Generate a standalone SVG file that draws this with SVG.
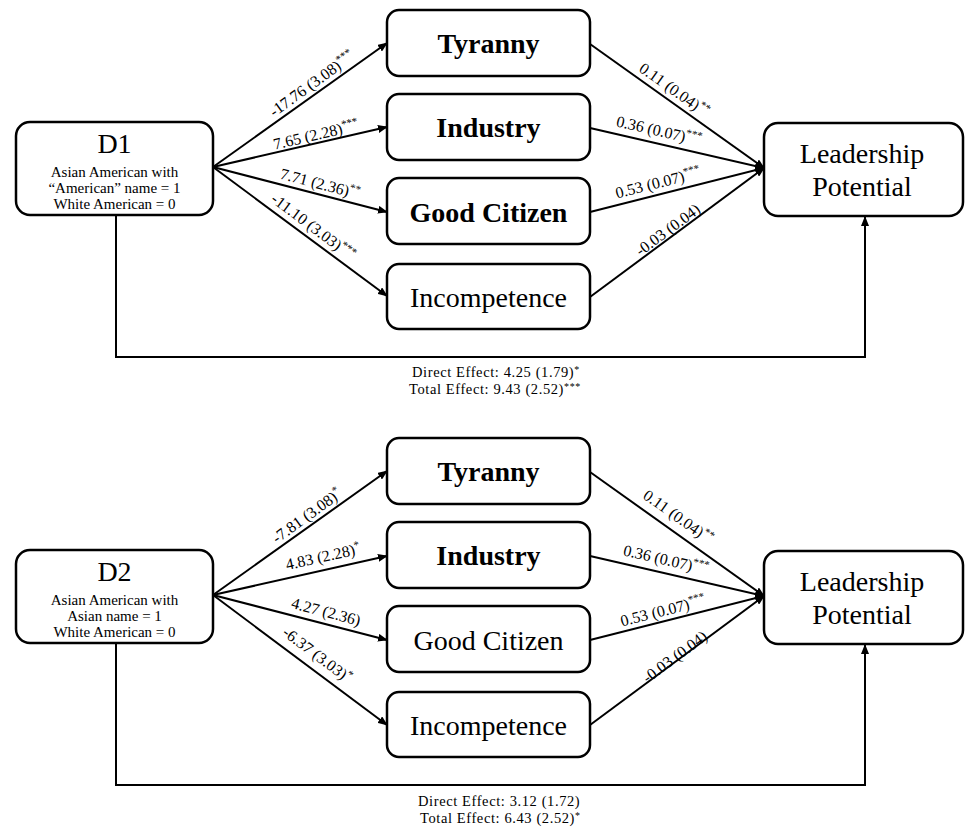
<svg xmlns="http://www.w3.org/2000/svg" width="970" height="830" viewBox="0 0 970 830">
<defs>
<marker id="arr" markerUnits="userSpaceOnUse" markerWidth="10" markerHeight="8" refX="9" refY="4" orient="auto">
<path d="M0,0 L10,4 L0,8 Z" fill="#000"/>
</marker>
<style>
text{font-family:"Liberation Serif","Times New Roman",serif;fill:#000}
.box{fill:#fff;stroke:#000;stroke-width:2.5}
.ln{fill:none;stroke:#000;stroke-width:2}
.big{font-size:28px;text-anchor:middle}
.b{font-weight:bold}
.sub{font-size:15px;text-anchor:middle}
.lab{font-size:16px;text-anchor:middle}
.eff{font-size:14.5px;letter-spacing:0.6px}
.st{font-size:11px}
.st2{font-size:10px}
</style>
</defs>
<rect width="970" height="830" fill="#fff"/>

<g id="panel1">
<g id="connectors1">
<line class="ln" x1="213" y1="167" x2="387" y2="43" marker-end="url(#arr)"/>
<line class="ln" x1="213" y1="167" x2="387" y2="127" marker-end="url(#arr)"/>
<line class="ln" x1="213" y1="167" x2="387" y2="212" marker-end="url(#arr)"/>
<line class="ln" x1="213" y1="167" x2="387" y2="296" marker-end="url(#arr)"/>
<line class="ln" x1="590" y1="44" x2="764" y2="168" marker-end="url(#arr)"/>
<line class="ln" x1="590" y1="128" x2="764" y2="168" marker-end="url(#arr)"/>
<line class="ln" x1="590" y1="212" x2="764" y2="168" marker-end="url(#arr)"/>
<line class="ln" x1="590" y1="297" x2="764" y2="168" marker-end="url(#arr)"/>
<path class="ln" d="M116,215 V357 H865 V217" marker-end="url(#arr)"/>
<text class="lab" transform="translate(312,84) rotate(-35.8)" dy="5">-17.76 (3.08)<tspan class="st" dy="-6">***</tspan></text>
<text class="lab" transform="translate(316,135) rotate(-13.1)" dy="5">7.65 (2.28)<tspan class="st" dy="-6">***</tspan></text>
<text class="lab" transform="translate(320,184) rotate(14.7)" dy="5">7.71 (2.36)<tspan class="st" dy="-6">**</tspan></text>
<text class="lab" transform="translate(313,227) rotate(36.9)" dy="5">-11.10 (3.03)<tspan class="st" dy="-6">***</tspan></text>
<text class="lab" transform="translate(674,90) rotate(35.3)" dy="5">0.11 (0.04)<tspan class="st" dy="-6">**</tspan></text>
<text class="lab" transform="translate(659,131) rotate(12.9)" dy="5">0.36 (0.07)<tspan class="st" dy="-6">***</tspan></text>
<text class="lab" transform="translate(658,183) rotate(-14.1)" dy="5">0.53 (0.07)<tspan class="st" dy="-6">***</tspan></text>
<text class="lab" transform="translate(668,230) rotate(-36.4)" dy="5">-0.03 (0.04)</text>
<text class="eff" x="412" y="377">Direct Effect:  4.25 (1.79)<tspan class="st2" dy="-4">*</tspan></text>
<text class="eff" x="409" y="394">Total Effect:  9.43 (2.52)<tspan class="st2" dy="-4">***</tspan></text>
</g>
<g id="D1">
<rect class="box" x="16" y="122" width="197" height="93" rx="14"/>
<text class="big" x="114.5" y="153">D1</text>
<text class="sub" x="114.5" y="177">Asian American with</text>
<text class="sub" x="114.5" y="193">“American” name = 1</text>
<text class="sub" x="114.5" y="209">White American = 0</text>
</g>
<g id="tyranny1">
<rect class="box" x="387" y="10" width="203" height="66" rx="12"/>
<text class="big b" x="488.5" y="53">Tyranny</text>
</g>
<g id="industry1">
<rect class="box" x="387" y="94" width="203" height="66" rx="12"/>
<text class="big b" x="488.5" y="137">Industry</text>
</g>
<g id="goodcitizen1">
<rect class="box" x="387" y="178" width="203" height="66" rx="12"/>
<text class="big b" x="488.5" y="222">Good Citizen</text>
</g>
<g id="incompetence1">
<rect class="box" x="387" y="264" width="203" height="65" rx="12"/>
<text class="big" x="488.5" y="307">Incompetence</text>
</g>
<g id="leadership1">
<rect class="box" x="764" y="123" width="199" height="93" rx="14"/>
<text class="big" x="862" y="163">Leadership</text>
<text class="big" x="862" y="196">Potential</text>
</g>
</g>

<g id="panel2" transform="translate(0,428)">
<g id="connectors2">
<line class="ln" x1="213" y1="167" x2="387" y2="43" marker-end="url(#arr)"/>
<line class="ln" x1="213" y1="167" x2="387" y2="128" marker-end="url(#arr)"/>
<line class="ln" x1="213" y1="167" x2="387" y2="212" marker-end="url(#arr)"/>
<line class="ln" x1="213" y1="167" x2="387" y2="297" marker-end="url(#arr)"/>
<line class="ln" x1="590" y1="44" x2="764" y2="168" marker-end="url(#arr)"/>
<line class="ln" x1="590" y1="128" x2="764" y2="168" marker-end="url(#arr)"/>
<line class="ln" x1="590" y1="212" x2="764" y2="168" marker-end="url(#arr)"/>
<line class="ln" x1="590" y1="297" x2="764" y2="168" marker-end="url(#arr)"/>
<path class="ln" d="M116,215 V357 H865 V217" marker-end="url(#arr)"/>
<text class="lab" transform="translate(307,88) rotate(-36)" dy="5">-7.81 (3.08)<tspan class="st" dy="-6">*</tspan></text>
<text class="lab" transform="translate(323,129) rotate(-12.5)" dy="5">4.83 (2.28)<tspan class="st" dy="-6">*</tspan></text>
<text class="lab" transform="translate(326,184) rotate(14.7)" dy="5">4.27 (2.36)</text>
<text class="lab" transform="translate(317,227) rotate(37)" dy="5">-6.37 (3.03)<tspan class="st" dy="-6">*</tspan></text>
<text class="lab" transform="translate(678,89) rotate(35.3)" dy="5">0.11 (0.04)<tspan class="st" dy="-6">**</tspan></text>
<text class="lab" transform="translate(666,132) rotate(12.9)" dy="5">0.36 (0.07)<tspan class="st" dy="-6">***</tspan></text>
<text class="lab" transform="translate(663,183) rotate(-14.1)" dy="5">0.53 (0.07)<tspan class="st" dy="-6">***</tspan></text>
<text class="lab" transform="translate(675,229) rotate(-36.4)" dy="5">-0.03 (0.04)</text>
<text class="eff" x="418" y="378">Direct Effect:  3.12 (1.72)</text>
<text class="eff" x="420" y="395">Total Effect:  6.43 (2.52)<tspan class="st2" dy="-4">*</tspan></text>
</g>
<g id="D2">
<rect class="box" x="16" y="122" width="197" height="93" rx="14"/>
<text class="big" x="114.5" y="153">D2</text>
<text class="sub" x="114.5" y="177">Asian American with</text>
<text class="sub" x="114.5" y="193">Asian name = 1</text>
<text class="sub" x="114.5" y="209">White American = 0</text>
</g>
<g id="tyranny2">
<rect class="box" x="387" y="10" width="203" height="66" rx="12"/>
<text class="big b" x="488.5" y="53">Tyranny</text>
</g>
<g id="industry2">
<rect class="box" x="387" y="94" width="203" height="66" rx="12"/>
<text class="big b" x="488.5" y="137">Industry</text>
</g>
<g id="goodcitizen2">
<rect class="box" x="387" y="178" width="203" height="66" rx="12"/>
<text class="big" x="488.5" y="222">Good Citizen</text>
</g>
<g id="incompetence2">
<rect class="box" x="387" y="264" width="203" height="65" rx="12"/>
<text class="big" x="488.5" y="307">Incompetence</text>
</g>
<g id="leadership2">
<rect class="box" x="764" y="123" width="199" height="93" rx="14"/>
<text class="big" x="862" y="163">Leadership</text>
<text class="big" x="862" y="196">Potential</text>
</g>
</g>
</svg>
